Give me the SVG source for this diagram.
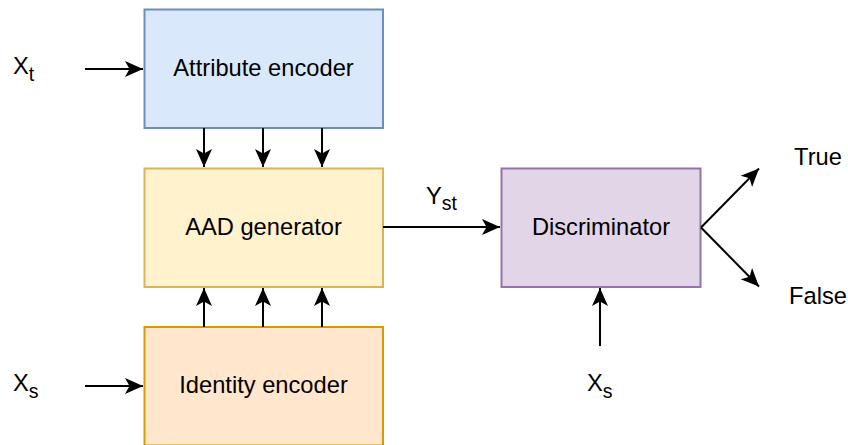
<svg xmlns="http://www.w3.org/2000/svg" width="848" height="445" viewBox="0 0 848 445">
<style>
  text { font-family: "Liberation Sans", Arial, sans-serif; fill: #000; }
  .lbl { font-size: 23.7px; text-anchor: middle; }
  .sym { font-size: 23.7px; }
  .sub { font-size: 19.5px; }
  .edge { stroke: #000; stroke-width: 2; fill: none; marker-end: url(#arr); }
</style>
<defs>
  <marker id="arr" markerUnits="userSpaceOnUse" viewBox="-19 -10 21 20" refX="0" refY="0" markerWidth="21" markerHeight="20" orient="auto">
    <path d="M0,0 L-18,-8 L-13.5,0 L-18,8 Z" fill="#000"/>
  </marker>
</defs>
<rect width="848" height="445" fill="#fff"/>

<g id="attribute-encoder">
  <rect x="144.5" y="9.5" width="238.5" height="118.5" fill="#dae8fc" stroke="#6c8ebf" stroke-width="2"/>
  <text class="lbl" x="263.5" y="75.5">Attribute encoder</text>
</g>
<g id="aad-generator">
  <rect x="144.5" y="168.5" width="238.5" height="118.5" fill="#fff2cc" stroke="#d6b656" stroke-width="2"/>
  <text class="lbl" x="263.5" y="234.5">AAD generator</text>
</g>
<g id="identity-encoder">
  <rect x="144.5" y="327" width="238.5" height="118.5" fill="#ffe6cc" stroke="#d79b00" stroke-width="2"/>
  <text class="lbl" x="263.5" y="393">Identity encoder</text>
</g>
<g id="discriminator">
  <rect x="501.5" y="168.5" width="199" height="118.5" fill="#e1d5e7" stroke="#9673a6" stroke-width="2"/>
  <text class="lbl" x="601" y="234.5">Discriminator</text>
</g>

<g id="labels">
  <text class="sym" x="13" y="74">X<tspan class="sub" dy="7">t</tspan></text>
  <text class="sym" x="13" y="391">X<tspan class="sub" dy="7">s</tspan></text>
  <text class="sym" x="587" y="391">X<tspan class="sub" dy="7">s</tspan></text>
  <text class="sym" x="426" y="204">Y<tspan class="sub" dy="6">st</tspan></text>
  <text class="lbl" x="818" y="164.5">True</text>
  <text class="lbl" x="818" y="303.5">False</text>
</g>

<g id="connectors">
  <line class="edge" x1="85" y1="69" x2="143" y2="69"/>
  <line class="edge" x1="85" y1="386" x2="143" y2="386"/>
  <line class="edge" x1="204" y1="128" x2="204" y2="167"/>
  <line class="edge" x1="263" y1="128" x2="263" y2="167"/>
  <line class="edge" x1="322" y1="128" x2="322" y2="167"/>
  <line class="edge" x1="204" y1="327" x2="204" y2="288"/>
  <line class="edge" x1="263" y1="327" x2="263" y2="288"/>
  <line class="edge" x1="322" y1="327" x2="322" y2="288"/>
  <line class="edge" x1="383" y1="227" x2="500" y2="227"/>
  <line class="edge" x1="600" y1="346" x2="600" y2="288"/>
  <line class="edge" x1="701" y1="227.5" x2="759" y2="168.5"/>
  <line class="edge" x1="701" y1="227.5" x2="759" y2="286.5"/>
</g>
</svg>
